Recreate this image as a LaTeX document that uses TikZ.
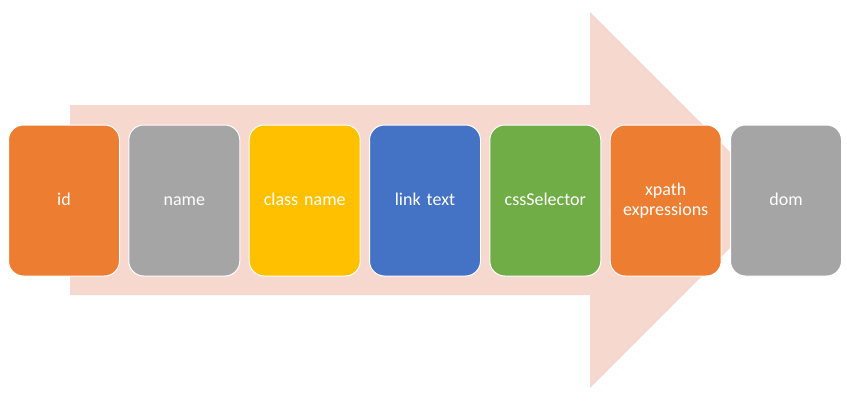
\documentclass[tikz,border=0pt]{standalone}
\usepackage{fontspec}
\setmainfont{Carlito}
\definecolor{corange}{HTML}{ED7D31}
\definecolor{cgray}{HTML}{A5A5A5}
\definecolor{cyellow}{HTML}{FFC000}
\definecolor{cblue}{HTML}{4472C4}
\definecolor{cgreen}{HTML}{70AD47}
\definecolor{carrow}{HTML}{F7D8CE}
\begin{document}
\begin{tikzpicture}[x=1pt,y=-1pt,
  card/.style={draw=white, line width=1pt, rounded corners=15pt, minimum width=111pt, minimum height=151pt,
    text=white, align=center, font=\fontsize{18}{20}\selectfont, inner sep=2pt, text width=104pt,
    text height=9pt, text depth=0pt}]
\useasboundingbox (0,0) rectangle (847,405);
\fill[carrow] (70,105) -- (590,105) -- (590,12) -- (778,200) -- (590,388) -- (590,295) -- (70,295) -- cycle;
\node[card, fill=corange] (n1) at (64,200.5) {id};
\node[card, fill=cgray] (n2) at (184.3,200.5) {name};
\node[card, fill=cyellow] (n3) at (304.7,200.5) {class name};
\node[card, fill=cblue] (n4) at (425,200.5) {link text};
\node[card, fill=cgreen] (n5) at (545.3,200.5) {cssSelector};
\node[card, fill=corange, text height=0pt, text depth=10pt] (n6) at (665.7,200.5) {xpath\\expressions};
\node[card, fill=cgray] (n7) at (786,200.5) {dom};
\end{tikzpicture}
\end{document}
